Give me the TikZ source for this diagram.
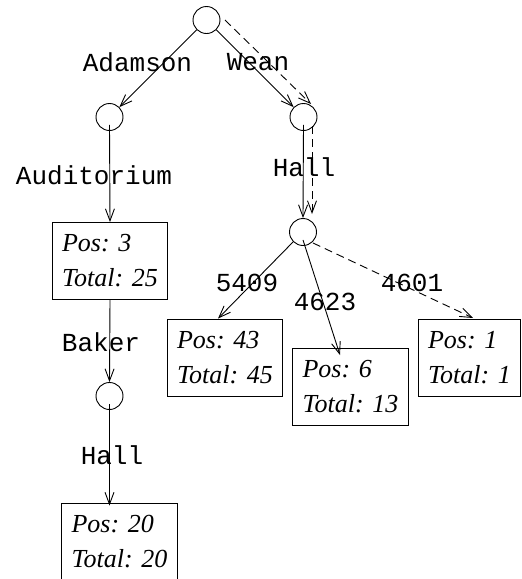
\documentclass[tikz,border=0pt]{standalone}
\usepackage{fontspec}
\setmainfont{Liberation Serif}
\newfontfamily\labelfont{Liberation Mono}
\usetikzlibrary{arrows.meta}
\begin{document}
\begin{tikzpicture}[x=1pt,y=-1pt,
  every node/.style={font=\fontsize{26}{35}\selectfont},
  state/.style={circle,draw,minimum size=27pt,inner sep=0pt,line width=0.9pt},
  result/.style={rectangle,draw,line width=0.9pt,align=left,inner xsep=10pt,
                 inner ysep=10pt,minimum height=77pt,font=\fontsize{26}{35}\selectfont\itshape},
  word/.style={font=\fontsize{26}{35}\selectfont\labelfont,inner sep=0pt},
  link/.style={line width=0.9pt,-{Straight Barb[length=12pt,width=9pt]}},
  trail/.style={link,dash pattern=on 8pt off 5pt}]
\useasboundingbox (0,0) rectangle (522,579);
\clip (0,0) rectangle (522,579);

% trie states
\node[state] (root) at (206.5,20) {};
\node[state] (adam) at (109.5,117) {};
\node[state] (wean) at (303.5,117) {};
\node[state] (hall) at (303,232) {};
\node[state] (baker) at (109.5,396) {};

% result boxes
\node[result] (audit) at (110,261) {Pos: 3\\Total: 25};
\node[result] (r5409) at (225,357.5) {Pos: 43\\Total: 45};
\node[result] (r4623) at (350.5,387) {Pos: 6\\Total: 13};
\node[result] (r4601) at (469.5,358) {Pos: 1\\Total: 1};
\node[result] (bhall) at (119.5,541.5) {Pos: 20\\Total: 20};

% edge labels
\node[word] (lAdamson) at (137.5,62) {Adamson};
\node[word] (lWean) at (258,62) {Wean};
\node[word] (lHall1) at (304,167) {Hall};
\node[word] (lAudit) at (94,175) {Auditorium};
\node[word] (lBaker) at (101,342) {Baker};
\node[word] (lHall2) at (112,455) {Hall};
\node[word] (l5409) at (247,283) {5409};
\node[word] (l4623) at (325,302) {4623};
\node[word] (l4601) at (412,283) {4601};

% solid edges
\draw[link] (root) -- (adam);
\draw[link] (root) -- (wean);
\draw[link] ([yshift=6pt]wean.south) -- (hall.north);
\draw[link] ([yshift=6pt]adam.south) -- (audit.north);
\draw[link] (audit.south) -- (baker.north);
\draw[link] ([yshift=6pt]baker.south) -- ([yshift=-3pt]bhall.north -| baker.south);
\draw[link] (hall.225) -- ([xshift=-7pt]r5409.north);
\draw[link] ([yshift=6pt]hall.south) -- ([shift={(-10.5,7)}]r4623.north);

% dashed search path
\coordinate (t1a) at (225,20);
\coordinate (t1b) at (311,104);
\coordinate (t2a) at (312,126);
\coordinate (t2b) at (312,214);
\coordinate (t3a) at (313,243);
\coordinate (t3b) at (473,318);
\draw[trail] (t1a) -- (t1b);
\draw[trail] (t2a) -- (t2b);
\draw[trail] (t3a) -- (t3b);
\end{tikzpicture}
\end{document}
